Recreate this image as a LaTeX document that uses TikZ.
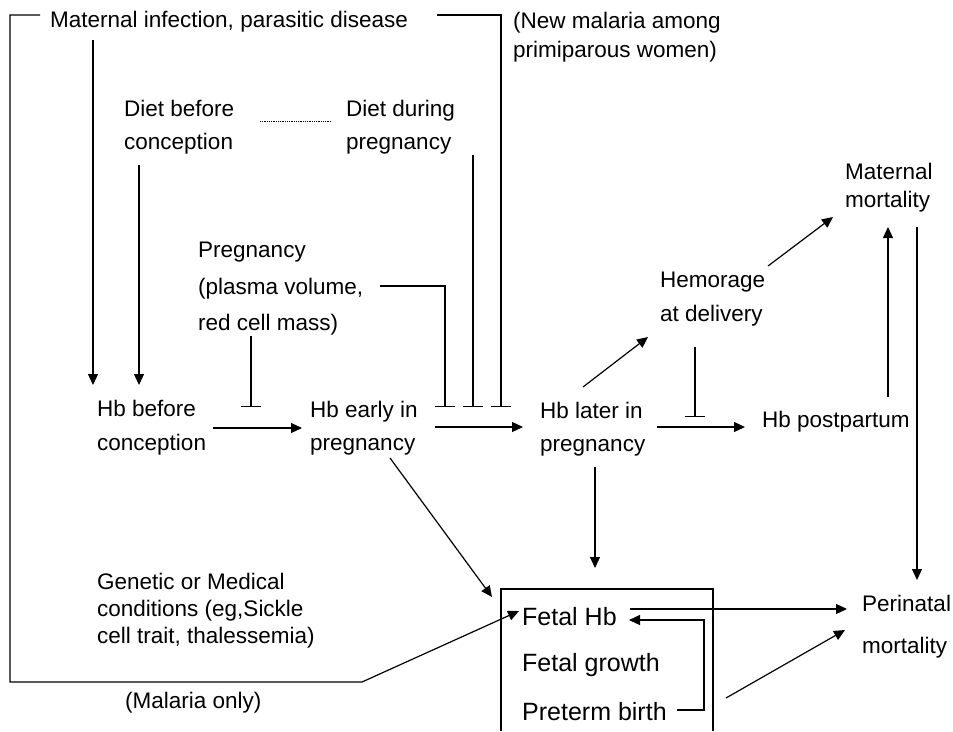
\documentclass[tikz,border=0pt]{standalone}
\usepackage{fontspec}
\setmainfont{Liberation Sans}
\usetikzlibrary{arrows.meta}
\begin{document}
\begin{tikzpicture}[x=1pt,y=-1pt,
  lbl/.style={anchor=north west, inner sep=0pt, align=left, font=\fontsize{22.5}{#1}\selectfont},
  lbl/.default=33,
  boxtxt/.style={anchor=north west, inner sep=0pt, font=\fontsize{25}{30}\selectfont},
  arr/.style={-{Triangle[length=11pt,width=10pt]}, line width=1.2pt},
  tee/.style={-{Bar[width=#1]}, line width=1.2pt},
  tee/.default=20pt,
  ln/.style={line width=1.2pt}]
\useasboundingbox[fill=white] (0,0) rectangle (953,731);

% text nodes
\node[lbl] (mat) at (50,11) {Maternal infection, parasitic disease};
\node[lbl=29] (newmal) at (513,12) {(New malaria among\\primiparous women)};
\node[lbl=33] (dietb) at (124,100) {Diet before\\conception};
\node[lbl=33] (dietd) at (346,100) {Diet during\\pregnancy};
\node[lbl=36.5] (preg) at (198,242) {Pregnancy\\(plasma volume,\\red cell mass)};
\node[lbl=34] (hbb) at (97,400) {Hb before\\conception};
\node[lbl=33] (hbe) at (310,401) {Hb early in\\pregnancy};
\node[lbl=33] (hbl) at (540,402) {Hb later in\\pregnancy};
\node[lbl=34] (hem) at (660,272) {Hemorage\\at delivery};
\node[lbl] (hbp) at (762,411) {Hb postpartum};
\node[lbl=28] (matm) at (845,163) {Maternal\\mortality};
\node[lbl=27] (gen) at (97,573) {Genetic or Medical\\conditions (eg,Sickle\\cell trait, thalessemia)};
\node[lbl=42] (peri) at (862,595) {Perinatal\\mortality};
\node[boxtxt] (fhb) at (522,607) {Fetal Hb};
\node[boxtxt] (fgr) at (522,653) {Fetal growth};
\node[boxtxt] (ptb) at (522,702) {Preterm birth};
\node[lbl] (mal) at (125,692) {(Malaria only)};

% fetal box (open at the bottom edge of the picture)
\coordinate (boxbl) at (501,731);
\coordinate (boxtl) at (501,589);
\coordinate (boxtr) at (713,589);
\coordinate (boxbr) at (713,731);
\draw[ln] (boxbl) -- (boxtl) -- (boxtr) -- (boxbr);

% outer frame from maternal infection
\coordinate (fr1) at (40,15);
\coordinate (fr2) at (10,15);
\coordinate (fr3) at (10,682);
\coordinate (fr4) at (362,682);
\coordinate (fr8) at (519,611);
\draw[arr] (fr1) -- (fr2) -- (fr3) -- (fr4) -- (fr8);
\coordinate (fr5) at (437,15);
\coordinate (fr6) at (501,15);
\coordinate (fr7) at (501,407);
\draw[tee] (fr5) -- (fr6) -- (fr7);

% maternal infection -> Hb before
\coordinate (m1) at (93,40);
\coordinate (m2) at (93,385);
\draw[arr] (m1) -- (m2);
% diet before -> Hb before
\coordinate (d1) at (139,165);
\coordinate (d2) at (139,385);
\draw[arr] (d1) -- (d2);
% dotted link between diets
\coordinate (dt1) at (260,121);
\coordinate (dt2) at (332,121);
\draw[densely dotted, line width=0.8pt] (dt1) -- (dt2);
% diet during -> tee
\coordinate (dd1) at (473,155);
\coordinate (dd2) at (473,407);
\draw[tee] (dd1) -- (dd2);
% pregnancy -> tees
\coordinate (p1) at (380,286);
\coordinate (p2) at (445,286);
\coordinate (p3) at (445,407);
\draw[tee] (p1) -- (p2) -- (p3);
\coordinate (p4) at (251,336);
\coordinate (p5) at (251,407);
\draw[tee] (p4) -- (p5);

% main chain
\coordinate (c1) at (213,428);
\coordinate (c2) at (302,428);
\draw[arr] (c1) -- (c2);
\coordinate (c3) at (435,427);
\coordinate (c4) at (523,427);
\draw[arr] (c3) -- (c4);
\coordinate (c5) at (657,427);
\coordinate (c6) at (745,427);
\draw[arr] (c5) -- (c6);

% Hb later -> hemorrhage
\coordinate (h1) at (583,387);
\coordinate (h2) at (648,337);
\draw[arr] (h1) -- (h2);
% hemorrhage -> tee on Hb postpartum arrow
\coordinate (h3) at (695,347);
\coordinate (h4) at (695,417);
\draw[tee] (h3) -- (h4);
% hemorrhage -> maternal mortality
\coordinate (h5) at (768,266);
\coordinate (h6) at (833,217);
\draw[arr] (h5) -- (h6);
% Hb postpartum -> maternal mortality
\coordinate (q1) at (888,397);
\coordinate (q2) at (888,227);
\draw[arr] (q1) -- (q2);
% maternal mortality -> perinatal mortality
\coordinate (q3) at (917,227);
\coordinate (q4) at (917,580);
\draw[arr] (q3) -- (q4);

% Hb later -> box
\coordinate (b1) at (595,467);
\coordinate (b2) at (595,568);
\draw[arr] (b1) -- (b2);
% Hb early -> box
\coordinate (b3) at (390,458);
\coordinate (b4) at (492,597);
\draw[arr] (b3) -- (b4);

% Fetal Hb -> perinatal
\coordinate (f1) at (630,609);
\coordinate (f2) at (847,609);
\draw[arr] (f1) -- (f2);
% preterm birth -> Fetal Hb
\coordinate (f3) at (677,710);
\coordinate (f4) at (704,710);
\coordinate (f5) at (704,620);
\coordinate (f6) at (629,620);
\draw[arr] (f3) -- (f4) -- (f5) -- (f6);
% box -> perinatal
\coordinate (f7) at (726,698);
\coordinate (f8) at (845,630);
\draw[arr] (f7) -- (f8);
\end{tikzpicture}
\end{document}
